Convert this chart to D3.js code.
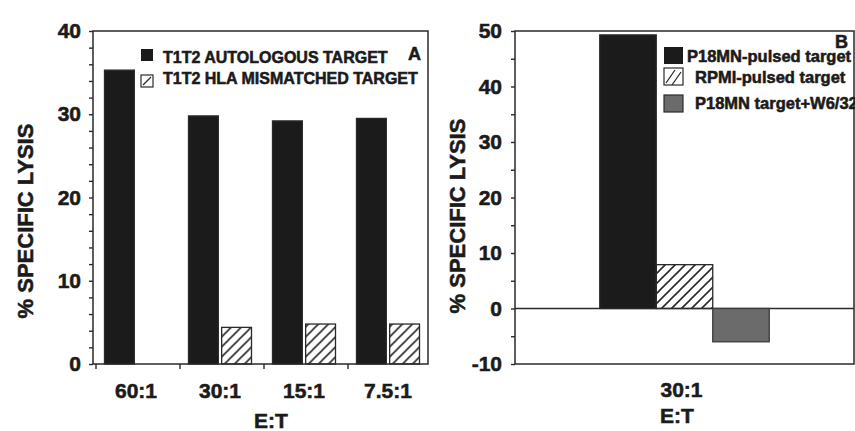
<!DOCTYPE html>
<html>
<head>
<meta charset="utf-8">
<script src="https://cdn.jsdelivr.net/npm/d3@7"></script>
<style>
  html, body { margin: 0; padding: 0; background: #fff; }
  svg { display: block; font-family: "Liberation Sans", Arial, Helvetica, sans-serif; font-weight: bold; }
  svg text { stroke: #1b1b1b; stroke-width: 0.55px; }
</style>
</head>
<body>
<svg id="chart" width="855" height="431"></svg>
<script>
// ---------- DATA ----------
const ratiosA = ["60:1", "30:1", "15:1", "7.5:1"];
const seriesA = ["T1T2 AUTOLOGOUS TARGET", "T1T2 HLA MISMATCHED TARGET"];
const autologousA = [35.3, 29.8, 29.2, 29.5];
const mismatchedA = [null, 4.4, 4.8, 4.8];
const yTicksA = [0, 10, 20, 30, 40];

const ratiosB = ["30:1"];
const seriesB = ["P18MN-pulsed target", "RPMI-pulsed target", "P18MN target+W6/32"];
const p18mnB = [49.3];
const rpmiB = [7.9];
const w632B = [-6.0];
const yTicksB = [-10, 0, 10, 20, 30, 40, 50];

const xTitle = "E:T";
const yTitle = "% SPECIFIC LYSIS";

// ---------- SETUP ----------
const svg = d3.select("#chart");
const INK = "#1b1b1b";
const LINE = "#2a2a2a";

const defs = svg.append("defs");
defs.append("pattern")
  .attr("id", "hatch").attr("patternUnits", "userSpaceOnUse")
  .attr("width", 10).attr("height", 10)
  .append("path")
  .attr("d", "M0,10 L10,0 M-2,2 L2,-2 M8,12 L12,8")
  .attr("stroke", LINE).attr("stroke-width", 1.6);

const fills = { solid: INK, hatch: "url(#hatch)", gray: "#6b6b6b" };

function styleAxis(g, fontSize) {
  g.select(".domain").remove();
  g.selectAll(".tick line").attr("stroke", LINE).attr("stroke-width", 1.4);
  g.selectAll(".tick text").attr("fill", INK).style("font-size", fontSize + "px")
    .style("font-weight", "bold");
}

// ---------- PANEL A ----------
(function () {
  const left = 93, right = 428, top = 31, bottom = 364;
  const y = d3.scaleLinear().domain([0, 40]).range([bottom, top]);
  const x0 = d3.scaleBand().domain(ratiosA).range([94, 430]).paddingInner(0.25).paddingOuter(0.125);
  const x1 = d3.scaleBand().domain(seriesA).range([0, x0.bandwidth()]).paddingInner(0.1);
  const g = svg.append("g");

  g.append("path").attr("fill", "none").attr("stroke", LINE).attr("stroke-width", 1.5)
    .attr("d", `M${left},${bottom}V${top}H${right}V${bottom}H${left}`);

  const ya = g.append("g").attr("transform", `translate(${left},0)`)
    .call(d3.axisLeft(y).tickValues(d3.range(0, 41, 2)).tickSize(4).tickPadding(8)
      .tickFormat(d => yTicksA.includes(d) ? d : ""));
  styleAxis(ya, 21);

  const xa = g.append("g").attr("transform", `translate(0,${bottom})`)
    .call(d3.axisBottom(x0).tickSize(0).tickPadding(19));
  styleAxis(xa, 21);
  const step = x0.step();
  g.selectAll(".bt").data(ratiosA).join("line")
    .attr("x1", d => x0(d) - step * 0.125 + 2).attr("x2", d => x0(d) - step * 0.125 + 2)
    .attr("y1", bottom).attr("y2", bottom + 5)
    .attr("stroke", LINE).attr("stroke-width", 1.4);

  const rows = ratiosA.map((r, i) => ({ r, vals: [
    { s: seriesA[0], v: autologousA[i], f: fills.solid },
    { s: seriesA[1], v: mismatchedA[i], f: fills.hatch }
  ]}));
  const grp = g.selectAll(".grp").data(rows).join("g")
    .attr("transform", d => `translate(${x0(d.r)},0)`);
  grp.selectAll("rect").data(d => d.vals.filter(v => v.v != null)).join("rect")
    .attr("x", d => x1(d.s)).attr("width", x1.bandwidth())
    .attr("y", d => y(d.v)).attr("height", d => y(0) - y(d.v))
    .attr("fill", d => d.f).attr("stroke", LINE).attr("stroke-width", 1.3);

  g.append("text").attr("transform", `translate(33,221) rotate(-90)`)
    .attr("text-anchor", "middle").attr("fill", INK).style("font-size", "22px").text(yTitle);
  g.append("text").attr("x", 271).attr("y", 428).attr("text-anchor", "middle")
    .attr("fill", INK).style("font-size", "21px").text(xTitle);

  const lg = g.append("g");
  const ly = [49, 75];
  const lb = [63, 84];
  lg.selectAll("rect").data(seriesA).join("rect")
    .attr("x", 141).attr("y", (d, i) => ly[i]).attr("width", 12).attr("height", 12)
    .attr("fill", (d, i) => i === 0 ? fills.solid : "#fff")
    .attr("stroke", LINE).attr("stroke-width", (d, i) => i === 0 ? 0 : 1.2);
  lg.append("line").attr("x1", 143).attr("y1", 85).attr("x2", 151).attr("y2", 77)
    .attr("stroke", LINE).attr("stroke-width", 1.3);
  lg.selectAll("text").data(seriesA).join("text")
    .attr("x", 163).attr("y", (d, i) => lb[i]).attr("fill", INK)
    .style("font-size", "16px").text(d => d);
  g.append("text").attr("x", 408).attr("y", 60).attr("fill", INK)
    .style("font-size", "18px").text("A");
})();

// ---------- PANEL B ----------
(function () {
  const left = 515, right = 854, top = 31, bottom = 364;
  const y = d3.scaleLinear().domain([-10, 50]).range([bottom, top]);
  const x0 = d3.scaleBand().domain(ratiosB).range([left, right]).paddingInner(0.5).paddingOuter(0.25);
  const x1 = d3.scaleBand().domain(seriesB).range([0, x0.bandwidth()]);
  const g = svg.append("g");

  g.append("path").attr("fill", "none").attr("stroke", LINE).attr("stroke-width", 1.5)
    .attr("d", `M${left},${bottom}V${top}H${right}V${bottom}H${left}`);
  g.append("line").attr("x1", left).attr("x2", right).attr("y1", y(0)).attr("y2", y(0))
    .attr("stroke", LINE).attr("stroke-width", 1.4);

  const ya = g.append("g").attr("transform", `translate(${left},0)`)
    .call(d3.axisLeft(y).tickValues(d3.range(-10, 51, 5)).tickSize(4).tickPadding(9)
      .tickFormat(d => yTicksB.includes(d) ? d : ""));
  styleAxis(ya, 21);

  const vals = ratiosB.map((r, i) => [
    { r, s: seriesB[0], v: p18mnB[i], f: fills.solid, st: LINE },
    { r, s: seriesB[1], v: rpmiB[i], f: fills.hatch, st: LINE },
    { r, s: seriesB[2], v: w632B[i], f: fills.gray, st: "#3a3a3a" }
  ]).flat();
  g.selectAll(".bar").data(vals).join("rect")
    .attr("x", d => x0(d.r) + x1(d.s)).attr("width", x1.bandwidth())
    .attr("y", d => y(Math.max(0, d.v))).attr("height", d => Math.abs(y(d.v) - y(0)))
    .attr("fill", d => d.f).attr("stroke", d => d.st).attr("stroke-width", 1.3);

  g.selectAll(".xl").data(ratiosB).join("text")
    .attr("x", d => x0(d) + x0.bandwidth() / 2 - 3).attr("y", 397)
    .attr("text-anchor", "middle").attr("fill", INK).style("font-size", "21px").text(d => d);
  g.append("text").attr("x", 677).attr("y", 423).attr("text-anchor", "middle")
    .attr("fill", INK).style("font-size", "21px").text(xTitle);
  g.append("text").attr("transform", `translate(465,216) rotate(-90)`)
    .attr("text-anchor", "middle").attr("fill", INK).style("font-size", "22px").text(yTitle);

  const ly = [47, 68, 95];
  const lb = [62, 83, 109];
  const lx = [687, 695, 695];
  const lf = [fills.solid, "#fff", fills.gray];
  g.selectAll(".lr").data(seriesB).join("rect")
    .attr("x", 664).attr("y", (d, i) => ly[i]).attr("width", 19).attr("height", 17)
    .attr("fill", (d, i) => lf[i]).attr("stroke", LINE).attr("stroke-width", (d, i) => i === 0 ? 0 : 1.2);
  g.append("path").attr("d", "M666,83 L675,70 M672,85 L681,72").attr("stroke", LINE)
    .attr("stroke-width", 1.3).attr("fill", "none");
  g.selectAll(".lt").data(seriesB).join("text")
    .attr("x", (d, i) => lx[i]).attr("y", (d, i) => lb[i]).attr("fill", INK)
    .style("font-size", "16.5px").text(d => d);
  g.append("text").attr("x", 835).attr("y", 48).attr("fill", INK)
    .style("font-size", "18px").text("B");
})();
</script>
</body>
</html>
